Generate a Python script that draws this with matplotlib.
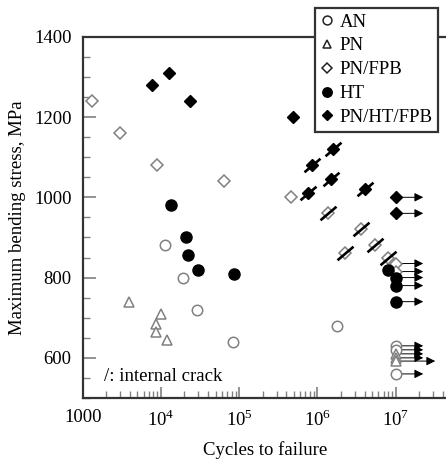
import matplotlib.pyplot as plt
from matplotlib.path import Path
from matplotlib.ticker import FixedLocator, FixedFormatter, NullFormatter
import numpy as np

plt.rcParams['font.family'] = ['Liberation Serif', 'DejaVu Serif']
plt.rcParams['mathtext.fontset'] = 'custom'
plt.rcParams['mathtext.rm'] = 'Liberation Serif'
plt.rcParams['font.size'] = 13.5

##### data #####
an_x = [11400, 19200, 28700, 82600, 1.77e6, 1e7, 1e7, 1e7]
an_y = [880, 800, 720, 640, 680, 630, 620, 560]

pn_x = [3890, 9900, 8650, 8650, 12080, 1e7, 1e7, 1e7]
pn_y = [740, 710, 685, 665, 645, 610, 600, 592]

fpb_x = [1316, 2985, 8990, 63200, 457000, 1.36e6, 3.63e6, 5.37e6, 2.26e6, 7.98e6, 1e7, 1e7]
fpb_y = [1240, 1160, 1080, 1040, 1000, 960, 920, 880, 860, 850, 835, 815]
fpb_crack = [0, 0, 0, 0, 0, 1, 1, 1, 1, 1, 0, 0]

ht_x = [13500, 21000, 22300, 30200, 84900, 8e6, 1e7, 1e7, 1e7]
ht_y = [980, 900, 855, 820, 810, 820, 800, 780, 740]

pht_x = [7600, 12800, 23650, 482000, 845000, 1.57e6, 752000, 1.47e6, 4.0e6, 1e7, 1e7]
pht_y = [1280, 1310, 1240, 1200, 1080, 1120, 1010, 1045, 1020, 1000, 960]
pht_crack = [0, 0, 0, 0, 1, 1, 1, 1, 1, 0, 0]

runout_n = 1e7
arrow_tip = 2.25e7
long_tip = 3.2e7

x_ticks = [1e3, 1e4, 1e5, 1e6, 1e7]
x_labels = ['1000', '10$^4$', '10$^5$', '10$^6$', '10$^7$']
y_ticks = [600, 800, 1000, 1200, 1400]

##### figure #####
fig = plt.figure(figsize=(4.46, 4.59), dpi=100)
ax = fig.add_axes([0.1854, 0.1329, 0.818, 0.7871])
ax.set_xscale('log')
ax.set_xlim(1000, 4.6e7)
ax.set_ylim(500, 1400)

gray = '#808080'
slash = Path([[-1, -0.85], [1, 0.85]], [Path.MOVETO, Path.LINETO])

# arrows for runouts (drawn first, markers on top)
def runouts(xs, ys, tip=arrow_tip):
    for x, y in zip(xs, ys):
        if x == runout_n:
            ax.annotate('', xy=(tip, y), xytext=(x, y),
                        arrowprops=dict(arrowstyle='-|>', color='k', lw=0.7,
                                        mutation_scale=13, shrinkA=0, shrinkB=0),
                        zorder=1)

runouts(an_x, an_y)
runouts(pn_x[:-1], pn_y[:-1])
runouts(pn_x[-1:], pn_y[-1:], long_tip)
runouts(fpb_x, fpb_y)
runouts(ht_x, ht_y)
runouts(pht_x, pht_y)

ax.plot(an_x, an_y, 'o', ms=7.5, mfc='white', mec=gray, mew=1.1, ls='none', label='AN', zorder=3)
ax.plot(pn_x, pn_y, '^', ms=7.5, mfc='white', mec=gray, mew=1.1, ls='none', label='PN', zorder=3)
ax.plot(fpb_x, fpb_y, 'D', ms=6.5, mfc='white', mec=gray, mew=1.1, ls='none', label='PN/FPB', zorder=3)
ax.plot(ht_x, ht_y, 'o', ms=8, color='k', ls='none', label='HT', zorder=3)
ax.plot(pht_x, pht_y, 'D', ms=6.5, color='k', ls='none', label='PN/HT/FPB', zorder=3)

# internal crack slashes
cx = [x for x, c in zip(fpb_x, fpb_crack) if c] + [x for x, c in zip(pht_x, pht_crack) if c]
cy = [y for y, c in zip(fpb_y, fpb_crack) if c] + [y for y, c in zip(pht_y, pht_crack) if c]
ax.plot(cx, cy, marker=slash, ms=11.5, mec='k', mew=1.9, ls='none', zorder=4)

ax.text(1900, 554, '/: internal crack', va='center', ha='left')

##### axes #####
ax.xaxis.set_major_locator(FixedLocator(x_ticks))
ax.xaxis.set_major_formatter(FixedFormatter(x_labels))
minors = [m * 10**e for e in range(3, 8) for m in range(2, 10)]
ax.xaxis.set_minor_locator(FixedLocator(minors))
ax.xaxis.set_minor_formatter(NullFormatter())
ax.set_yticks(y_ticks)
ax.set_yticks(np.arange(500, 1401, 50), minor=True)

ax.tick_params(which='both', direction='in', color=gray, top=False, right=False)
ax.tick_params(which='major', length=9, width=1.2, pad=8)
ax.tick_params(which='minor', length=5, width=1)
ax.tick_params(axis='x', which='major', length=8)

for s in ['left', 'bottom', 'top']:
    ax.spines[s].set_color('#333333')
    ax.spines[s].set_linewidth(1.6)
ax.spines['right'].set_visible(False)

ax.set_xlabel('Cycles to failure', labelpad=8)
ax.set_ylabel('Maximum bending stress, MPa', labelpad=6)

leg = ax.legend(loc='upper right', bbox_to_anchor=(0.982, 0.983), bbox_transform=fig.transFigure,
                borderaxespad=0, frameon=True, fancybox=False, edgecolor='#333333',
                framealpha=1, handlelength=0.7, handletextpad=0.3, labelspacing=0.36,
                borderpad=0.3, markerscale=0.85)
leg.get_frame().set_linewidth(1.6)
leg.set_zorder(10)
for h in leg.legend_handles:
    if h.get_markerfacecolor() == 'white':
        h.set_markeredgecolor('#222222')

fig.savefig('out.png', dpi=100)
